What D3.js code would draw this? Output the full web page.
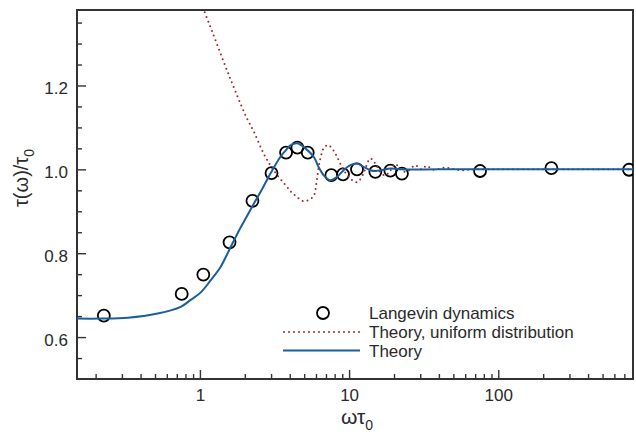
<!DOCTYPE html>
<html>
<head>
<meta charset="utf-8">
<script src="https://cdn.jsdelivr.net/npm/d3@7"></script>
<style>
  html, body { margin: 0; padding: 0; background: #fff; }
  svg { display: block; font-family: "Liberation Sans", Arial, Helvetica, sans-serif; }
</style>
</head>
<body>
<svg id="chart" width="636" height="438"></svg>
<script>
// Langevin dynamics simulation points
const simOmega = [0.227, 0.755, 1.054, 1.58, 2.25, 3.02, 3.78, 4.5, 5.28, 7.6, 9.1, 11.3, 15.0, 18.9, 22.6, 75.5, 227, 752];
const simTau   = [0.651, 0.703, 0.749, 0.826, 0.925, 0.991, 1.040, 1.052, 1.040, 0.986, 0.988, 1.000, 0.994, 0.997, 0.990, 0.996, 1.003, 0.999];

// Theory curve, uniform distribution of barriers
const uniOmega = [1.0, 1.064, 1.21, 1.563, 2.02, 2.297, 2.68, 3.12, 3.84, 4.15, 4.48, 4.84, 5.22, 5.79, 6.03, 6.25, 6.49, 6.75, 7.18, 7.68, 8.3, 8.97, 9.93, 11.3, 12.5, 13.1, 13.87, 14.97, 16.2, 17.4, 18.9, 20.4, 22.0, 23.8, 25.7, 27.7, 30.7, 33.0, 36.7, 44, 55, 70, 120, 300, 800];
const uniTau   = [1.408, 1.38, 1.328, 1.225, 1.129, 1.09, 1.037, 0.998, 0.958, 0.944, 0.934, 0.925, 0.925, 0.937, 0.966, 1.005, 1.033, 1.05, 1.058, 1.05, 1.03, 1.005, 0.982, 0.969, 0.99, 1.01, 1.026, 1.014, 0.994, 0.985, 0.997, 1.013, 1.0, 0.994, 1.0, 1.01, 1.0, 1.008, 0.999, 1.004, 0.998, 1.0, 1.0, 1.0, 1.0];

// Full theory curve
const thOmega = [0.15, 0.217, 0.329, 0.521, 0.743, 0.862, 1.01, 1.179, 1.375, 1.563, 1.779, 2.02, 2.297, 2.614, 2.97, 3.467, 3.74, 4.04, 4.48, 5.09, 5.79, 6.25, 6.75, 7.48, 8.3, 9.19, 10.19, 11.3, 12.5, 13.87, 14.97, 17.0, 18.9, 22.0, 40, 100, 300, 800];
const thTau   = [0.644, 0.644, 0.646, 0.656, 0.672, 0.688, 0.706, 0.735, 0.767, 0.806, 0.846, 0.882, 0.918, 0.953, 0.99, 1.03, 1.044, 1.057, 1.062, 1.05, 1.03, 1.005, 0.986, 0.974, 0.982, 0.998, 1.01, 1.014, 1.006, 0.998, 0.996, 0.999, 1.002, 1.0, 1.0, 1.0, 1.0, 1.0];

// Axis ticks
const xTickValues = [1, 10, 100];
const xTickLabels = ["1", "10", "100"];
const xMinorTicks = [0.2, 0.3, 0.4, 0.5, 0.6, 0.7, 0.8, 0.9, 2, 3, 4, 5, 6, 7, 8, 9, 20, 30, 40, 50, 60, 70, 80, 90, 200, 300, 400, 500, 600, 700];
const yTickValues = [0.6, 0.8, 1.0, 1.2];
const yTickLabels = ["0.6", "0.8", "1.0", "1.2"];
const yMinorTicks = [0.55, 0.65, 0.7, 0.75, 0.85, 0.9, 0.95, 1.05, 1.1, 1.15, 1.25, 1.3, 1.35];

const legendLabels = ["Langevin dynamics", "Theory, uniform distribution", "Theory"];

const plot = { left: 77, top: 10, right: 633, bottom: 379 };
const axisColor = "#333";
const textColor = "#2a2a2a";
const blue = "#1b5e9c";
const red = "#a3262c";

const svg = d3.select("#chart");

const x = d3.scaleLog().domain([0.15, 800]).range([plot.left, plot.right]);
const y = d3.scaleLinear().domain([0.5, 1.38]).range([plot.bottom, plot.top]);

svg.append("defs").append("clipPath").attr("id", "plotClip")
  .append("rect")
  .attr("x", plot.left).attr("y", plot.top)
  .attr("width", plot.right - plot.left).attr("height", plot.bottom - plot.top);

// Axes with inward ticks
function styleAxis(g) {
  g.select(".domain").remove();
  g.selectAll(".tick line").attr("stroke", axisColor).attr("stroke-width", 1.4);
  g.selectAll(".tick text").attr("fill", textColor).style("font-size", "17px")
    .style("font-family", "'Liberation Sans', Arial, sans-serif");
}

svg.append("g")
  .attr("transform", `translate(0,${plot.bottom})`)
  .call(d3.axisBottom(x).tickValues(xMinorTicks).tickSize(-5).tickFormat(""))
  .call(styleAxis);
svg.append("g")
  .attr("transform", `translate(0,${plot.bottom})`)
  .call(d3.axisBottom(x).tickValues(xTickValues).tickSize(-9).tickPadding(10)
    .tickFormat((d, i) => xTickLabels[i]))
  .call(styleAxis);

svg.append("g")
  .attr("transform", `translate(${plot.left},0)`)
  .call(d3.axisLeft(y).tickValues(yMinorTicks).tickSize(-5).tickFormat(""))
  .call(styleAxis);
svg.append("g")
  .attr("transform", `translate(${plot.left},0)`)
  .call(d3.axisLeft(y).tickValues(yTickValues).tickSize(-9).tickPadding(9)
    .tickFormat((d, i) => yTickLabels[i]))
  .call(styleAxis)
  .call(g => g.selectAll(".tick text").attr("dy", "0.5em"));

// Frame
svg.append("rect")
  .attr("x", plot.left).attr("y", plot.top)
  .attr("width", plot.right - plot.left).attr("height", plot.bottom - plot.top)
  .attr("fill", "none").attr("stroke", axisColor).attr("stroke-width", 2);

const plotG = svg.append("g").attr("clip-path", "url(#plotClip)");

// Simulation markers
plotG.selectAll("circle.sim")
  .data(simOmega.map((w, i) => [w, simTau[i]]))
  .join("circle")
  .attr("class", "sim")
  .attr("cx", d => x(d[0])).attr("cy", d => y(d[1]))
  .attr("r", 6)
  .attr("fill", "none").attr("stroke", "#000").attr("stroke-width", 1.8);

const line = d3.line()
  .x(d => x(d[0])).y(d => y(d[1]))
  .curve(d3.curveCatmullRom.alpha(0.5));

// Uniform-distribution theory (dotted)
plotG.append("path")
  .datum(uniOmega.map((w, i) => [w, uniTau[i]]))
  .attr("d", line)
  .attr("fill", "none").attr("stroke", red).attr("stroke-width", 2)
  .attr("stroke-linecap", "round").attr("stroke-dasharray", "0 5");

// Full theory (solid)
plotG.append("path")
  .datum(thOmega.map((w, i) => [w, thTau[i]]))
  .attr("d", line)
  .attr("fill", "none").attr("stroke", blue).attr("stroke-width", 2);

// Legend
const leg = svg.append("g").style("font-size", "17px").attr("fill", textColor);
const legRows = [313, 332, 350.5];
leg.append("circle").attr("cx", 323).attr("cy", legRows[0]).attr("r", 6)
  .attr("fill", "none").attr("stroke", "#000").attr("stroke-width", 1.8);
leg.append("line").attr("x1", 284).attr("x2", 360).attr("y1", legRows[1]).attr("y2", legRows[1])
  .attr("stroke", red).attr("stroke-width", 2).attr("stroke-linecap", "round").attr("stroke-dasharray", "0 5");
leg.append("line").attr("x1", 283).attr("x2", 360).attr("y1", legRows[2]).attr("y2", legRows[2])
  .attr("stroke", blue).attr("stroke-width", 2);
leg.selectAll("text.lab")
  .data(legendLabels)
  .join("text")
  .attr("class", "lab")
  .attr("x", 369)
  .attr("y", (d, i) => legRows[i] + 6.3)
  .text(d => d);

// Axis titles
const xt = svg.append("text")
  .attr("x", 357).attr("y", 424)
  .attr("text-anchor", "middle")
  .attr("fill", textColor).style("font-size", "21px");
xt.append("tspan").text("ωτ");
xt.append("tspan").attr("dy", 6).style("font-size", "14px").text("0");

const yt = svg.append("text")
  .attr("transform", "translate(28,178) rotate(-90)")
  .attr("text-anchor", "middle")
  .attr("fill", textColor).style("font-size", "20px");
yt.append("tspan").text("τ(ω)/τ");
yt.append("tspan").attr("dy", 6).style("font-size", "14px").text("0");
</script>
</body>
</html>
